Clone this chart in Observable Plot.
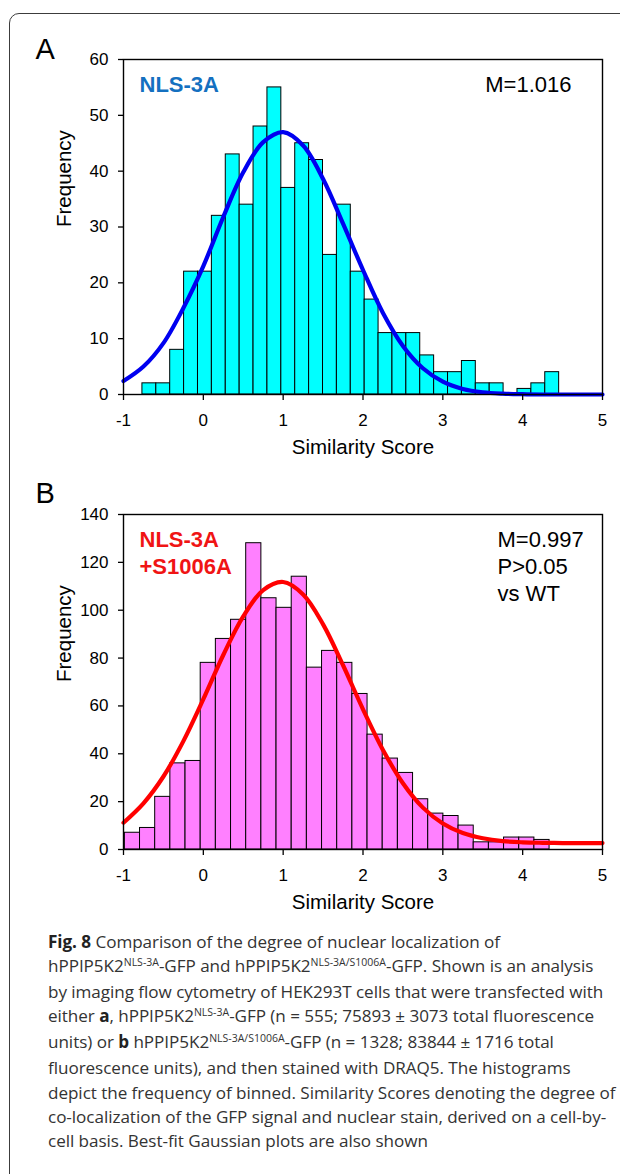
<!DOCTYPE html>
<html>
<head>
<meta charset="utf-8">
<script src="https://cdn.jsdelivr.net/npm/d3@7"></script>
<script src="https://cdn.jsdelivr.net/npm/@observablehq/plot@0.6"></script>
<style>
  html, body { margin: 0; padding: 0; background: #fff; }
  #page { position: relative; width: 620px; height: 1174px; overflow: hidden; background: #fff; }
  #border { position: absolute; left: 9px; top: 13px; width: 660px; height: 1220px;
            border: 1.5px solid #3c3c3c; border-radius: 10px; box-sizing: border-box; }
  .panel { position: absolute; left: 0; }
  #caption { position: absolute; left: 48px; top: 930px; font-family: "Open Sans", sans-serif;
             font-size: 17.1px; line-height: 24.1px; color: #333; white-space: nowrap; letter-spacing: -0.05px; }
  #caption sup { font-size: 10.5px; vertical-align: 0; position: relative; top: -6px; letter-spacing: 0; }
  #caption b { font-weight: 700; color: #222; }
</style>
</head>
<body>
<div id="page">
  <div id="border"></div>
  <div id="panelA" class="panel" style="top:0px"></div>
  <div id="panelB" class="panel" style="top:474px"></div>
  <div id="caption">
    <div><b>Fig. 8</b> Comparison of the degree of nuclear localization of</div>
    <div>hPPIP5K2<sup>NLS-3A</sup>-GFP and hPPIP5K2<sup>NLS-3A/S1006A</sup>-GFP. Shown is an analysis</div>
    <div>by imaging flow cytometry of HEK293T cells that were transfected with</div>
    <div>either <b>a</b>, hPPIP5K2<sup>NLS-3A</sup>-GFP (n = 555; 75893 ± 3073 total fluorescence</div>
    <div>units) or <b>b</b> hPPIP5K2<sup>NLS-3A/S1006A</sup>-GFP (n = 1328; 83844 ± 1716 total</div>
    <div>fluorescence units), and then stained with DRAQ5. The histograms</div>
    <div>depict the frequency of binned. Similarity Scores denoting the degree of</div>
    <div>co-localization of the GFP signal and nuclear stain, derived on a cell-by-</div>
    <div>cell basis. Best-fit Gaussian plots are also shown</div>
  </div>
</div>
<script>
// ---- Data ----
const xTicks = [-1, 0, 1, 2, 3, 4, 5];
const yTicksA = [0, 10, 20, 30, 40, 50, 60];
const yTicksB = [0, 20, 40, 60, 80, 100, 120, 140];

// Panel A histogram (NLS-3A, n = 555)
const binWidthA = 0.174;
const binCentersA = [-0.676, -0.502, -0.328, -0.154, 0.020, 0.194, 0.368, 0.542, 0.716, 0.890,
                     1.064, 1.238, 1.412, 1.586, 1.760, 1.934, 2.108, 2.282, 2.456, 2.630,
                     2.804, 2.978, 3.152, 3.326, 3.500, 3.674, 3.848, 4.022, 4.196, 4.370];
const countsA = [2, 2, 8, 22, 22, 32, 43, 34, 48, 55,
                 37, 45, 42, 25, 34, 22, 17, 11, 11, 11,
                 7, 4, 4, 6, 2, 2, 0, 1, 2, 4];

// Panel B histogram (NLS-3A + S1006A, n = 1328)
const binWidthB = 0.19;
const binCentersB = [-0.888, -0.698, -0.508, -0.318, -0.128, 0.062, 0.252, 0.442, 0.632, 0.822,
                     1.012, 1.202, 1.392, 1.582, 1.772, 1.962, 2.152, 2.342, 2.532, 2.722,
                     2.912, 3.102, 3.292, 3.482, 3.672, 3.862, 4.052, 4.242];
const countsB = [7, 9, 22, 36, 37, 78, 88, 96, 128, 105,
                 101, 114, 76, 83, 78, 65, 48, 38, 32, 21,
                 15, 14, 10, 3, 3, 5, 5, 4];

// Best-fit Gaussian curves
const curveX = [-1, -0.75, -0.5, -0.25, 0, 0.25, 0.5, 0.75, 1, 1.25, 1.5, 1.75, 2,
                2.25, 2.5, 2.75, 3, 3.25, 3.5, 3.75, 4, 4.25, 4.5, 4.75, 5];
const curveA = [2.4, 5.0, 9.2, 15.5, 23.0, 31.8, 39.8, 45.2, 47.0, 44.6, 38.6, 30.6, 22.3,
                14.6, 8.7, 4.7, 2.3, 1.0, 0.4, 0.15, 0.05, 0, 0, 0, 0];
const curveB = [11.2, 19.3, 30.5, 45.3, 62.8, 81.3, 97.4, 108.4, 111.8, 106.6, 94.1, 77.0, 58.6,
                41.6, 27.7, 17.5, 10.9, 6.9, 4.7, 3.5, 3.0, 2.8, 2.7, 2.7, 2.7];

// Labels
const panelLetters = ["A", "B"];
const seriesLabelA = "NLS-3A";
const seriesLabelB = "NLS-3A\n+S1006A";
const statsA = "M=1.016";
const statsB = "M=0.997\nP>0.05\nvs WT";
const xLabel = "Similarity Score";
const yLabel = "Frequency";

// ---- Build ----
function bins(centers, counts, w) {
  return centers.map((c, i) => ({x1: c - w / 2, x2: c + w / 2, y: counts[i]}));
}
function curve(ys) { return curveX.map((x, i) => ({x, y: ys[i]})); }
const plainFormat = d => (d < 0 ? "-" + Math.abs(d) : String(d));

function panel({height, marginTop, yDomain, yTicks, data, line, fill, lineColor,
                letter, letterDy, label, labelColor, stats, statsAnchor, statsDx}) {
  return Plot.plot({
    width: 620,
    height,
    marginLeft: 123,
    marginRight: 18,
    marginTop,
    marginBottom: 80,
    style: {fontFamily: "'Liberation Sans', Arial, sans-serif", fontSize: "17px", color: "#000", background: "transparent", overflow: "visible"},
    x: {domain: [-1, 5]},
    y: {domain: yDomain},
    marks: [
      Plot.rectY(data, {x1: "x1", x2: "x2", y: "y", fill, stroke: "#000", strokeWidth: 1}),
      Plot.lineY(line, {x: "x", y: "y", stroke: lineColor, strokeWidth: 4.2, curve: "catmull-rom"}),
      Plot.frame({stroke: "#000", strokeWidth: 1.4}),
      Plot.axisX({ticks: xTicks, tickFormat: plainFormat, tickSize: 6, tickPadding: 13, label: null, strokeWidth: 1.3, fontSize: 17}),
      Plot.axisY({ticks: yTicks, tickFormat: plainFormat, tickSize: 5, tickPadding: 10, label: null, strokeWidth: 1.3, fontSize: 17}),
      Plot.text([xLabel], {frameAnchor: "bottom", dy: 59, fontSize: 20.5, text: d => d}),
      Plot.text([yLabel], {frameAnchor: "left", dx: -59, rotate: -90, fontSize: 20.5, text: d => d}),
      Plot.text([letter], {frameAnchor: "top-left", dx: -88, dy: letterDy, textAnchor: "start", lineAnchor: "bottom", fontSize: 29, text: d => d}),
      Plot.text([label], {frameAnchor: "top-left", dx: 16, dy: 13, textAnchor: "start", lineAnchor: "top", fontSize: 22, fontWeight: "bold", fill: labelColor, lineHeight: 1.23, text: d => d}),
      Plot.text([stats], {frameAnchor: "top-right", dx: statsDx, dy: 13, textAnchor: statsAnchor, lineAnchor: "top", fontSize: 22, lineHeight: 1.23, text: d => d})
    ]
  });
}

document.getElementById("panelA").append(panel({
  height: 474, marginTop: 59, yDomain: [0, 60], yTicks: yTicksA,
  data: bins(binCentersA, countsA, binWidthA), line: curve(curveA),
  fill: "#00ffff", lineColor: "#0000f0", letter: panelLetters[0], letterDy: -1,
  label: seriesLabelA, labelColor: "#1470c0", stats: statsA, statsAnchor: "end", statsDx: -31
}));

document.getElementById("panelB").append(panel({
  height: 455, marginTop: 40, yDomain: [0, 140], yTicks: yTicksB,
  data: bins(binCentersB, countsB, binWidthB), line: curve(curveB),
  fill: "#ff80ff", lineColor: "#ff0000", letter: panelLetters[1], letterDy: -12,
  label: seriesLabelB, labelColor: "#f01414", stats: statsB, statsAnchor: "start", statsDx: -105
}));
</script>
</body>
</html>
